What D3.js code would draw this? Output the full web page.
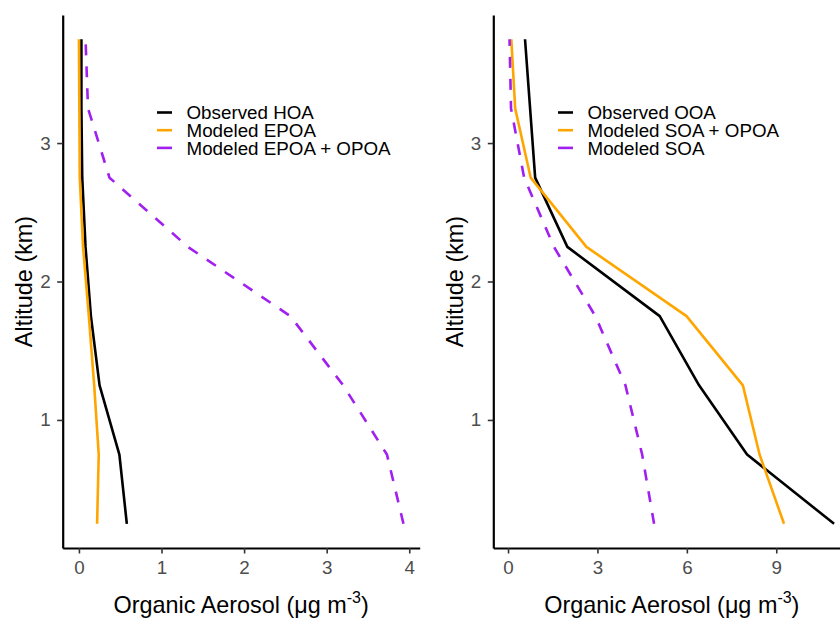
<!DOCTYPE html>
<html>
<head>
<meta charset="utf-8">
<script src="https://cdn.jsdelivr.net/npm/d3@7"></script>
<style>
  html, body { margin: 0; padding: 0; background: #fff; }
  svg { display: block; font-family: "Liberation Sans", Arial, Helvetica, sans-serif; }
</style>
</head>
<body>
<svg id="chart" width="840" height="619"></svg>
<script>
// Altitude levels (km) shared by both panels
const altitude = [0.25, 0.75, 1.25, 1.75, 2.25, 2.75, 3.25, 3.75];

// Left panel: primary organic aerosol (ug m-3)
const hoaObserved     = [0.58, 0.49, 0.25, 0.145, 0.08, 0.04, 0.03, 0.03];
const epoaModeled     = [0.22, 0.24, 0.185, 0.12, 0.05, 0.01, 0.005, 0.0];
const epoaOpoaModeled = [3.93, 3.73, 3.20, 2.56, 1.32, 0.37, 0.11, 0.08];

// Right panel: oxygenated / secondary organic aerosol (ug m-3)
const ooaObserved    = [10.94, 8.02, 6.41, 5.09, 1.99, 0.91, 0.74, 0.57];
const soaOpoaModeled = [9.26, 8.44, 7.88, 5.99, 2.63, 0.76, 0.24, 0.11];
const soaModeled     = [4.90, 4.50, 3.94, 2.93, 1.54, 0.54, 0.10, 0.05];

const leftLabels  = ['Observed HOA', 'Modeled EPOA', 'Modeled EPOA + OPOA'];
const rightLabels = ['Observed OOA', 'Modeled SOA + OPOA', 'Modeled SOA'];
const leftTicks  = [0, 1, 2, 3, 4];
const rightTicks = [0, 3, 6, 9];
const yTicks = [1, 2, 3];

// Styling
const COLORS = ['#000000', '#FFA500', '#A020F0'];
const DASHES = [null, null, '11,11'];
const LINE_W = 2.6;
const TICK_FONT = 18.8;
const TITLE_FONT = 23.4;
const PANEL_W = 357;
const TOP = 15, BOTTOM = 548;

const svg = d3.select('#chart');

// ggplot style 5% expansion of a data range
function expand(ext) {
    const pad = (ext[1] - ext[0]) * 0.05;
    return [ext[0] - pad, ext[1] + pad];
}

const y = d3.scaleLinear()
    .domain(expand(d3.extent(altitude)))
    .range([BOTTOM, TOP]);

function drawPanel(left, series, labels, ticks, legendX, titleX) {
    const allVals = series.flat();
    const x = d3.scaleLinear()
        .domain(expand(d3.extent(allVals)))
        .range([left, left + PANEL_W]);

    const g = svg.append('g');

    // Data lines
    const line = d3.line()
        .x(d => x(d[0]))
        .y(d => y(d[1]));

    series.forEach((vals, i) => {
        g.append('path')
            .datum(vals.map((v, j) => [v, altitude[j]]))
            .attr('d', line)
            .attr('fill', 'none')
            .attr('stroke', COLORS[i])
            .attr('stroke-width', LINE_W)
            .attr('stroke-linejoin', 'round')
            .attr('stroke-dasharray', DASHES[i]);
    });

    // Axes
    const xAxis = g.append('g')
        .attr('transform', `translate(0,${BOTTOM})`)
        .call(d3.axisBottom(x).tickValues(ticks).tickFormat(d3.format('d'))
            .tickSize(5.5).tickSizeOuter(0).tickPadding(6.7));
    const yAxis = g.append('g')
        .attr('transform', `translate(${left},0)`)
        .call(d3.axisLeft(y).tickValues(yTicks).tickFormat(d3.format('d'))
            .tickSize(5.5).tickSizeOuter(0).tickPadding(6.5));

    [xAxis, yAxis].forEach(ax => {
        ax.select('.domain').attr('stroke', '#000').attr('stroke-width', 2.2);
        ax.selectAll('.tick line').attr('stroke', '#333').attr('stroke-width', 1.6);
        ax.selectAll('.tick text')
            .attr('fill', '#4D4D4D')
            .style('font-size', TICK_FONT + 'px')
            .style('font-family', '"Liberation Sans", Arial, sans-serif');
    });

    // Axis titles
    const xTitle = g.append('text')
        .attr('x', left + PANEL_W / 2)
        .attr('y', 613)
        .attr('text-anchor', 'middle')
        .style('font-size', TITLE_FONT + 'px')
        .attr('fill', '#000');
    xTitle.append('tspan').text('Organic Aerosol (μg m');
    xTitle.append('tspan').attr('dy', -10).style('font-size', '16px').text('-3');
    xTitle.append('tspan').attr('dy', 10).text(')');

    g.append('text')
        .attr('transform', `translate(${titleX},${(TOP + BOTTOM) / 2}) rotate(-90)`)
        .attr('text-anchor', 'middle')
        .style('font-size', TITLE_FONT + 'px')
        .attr('fill', '#000')
        .text('Altitude (km)');

    // Legend
    const rowY = [112.5, 130.2, 147.9];
    labels.forEach((lab, i) => {
        g.append('line')
            .attr('x1', legendX).attr('x2', legendX + 15)
            .attr('y1', rowY[i]).attr('y2', rowY[i])
            .attr('stroke', COLORS[i])
            .attr('stroke-width', LINE_W);
        g.append('text')
            .attr('x', legendX + 29.5)
            .attr('y', rowY[i] + 6.6)
            .style('font-size', '18.8px')
            .attr('fill', '#000')
            .text(lab);
    });
}

drawPanel(62.7, [hoaObserved, epoaModeled, epoaOpoaModeled], leftLabels, leftTicks, 157, 32);
drawPanel(493.3, [ooaObserved, soaOpoaModeled, soaModeled], rightLabels, rightTicks, 558, 462.5);
</script>
</body>
</html>
